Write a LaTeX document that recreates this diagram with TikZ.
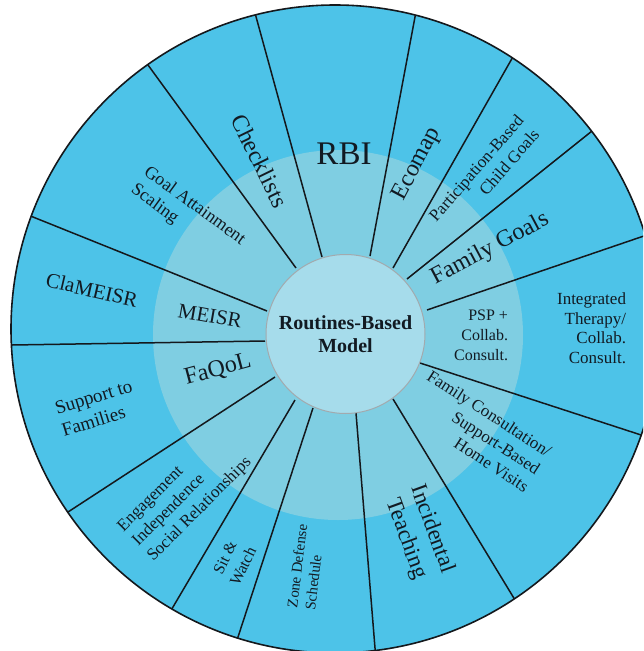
\documentclass[tikz,border=0pt]{standalone}
\usepackage{fontspec}
\setmainfont{Liberation Serif}
\definecolor{outerblue}{RGB}{77,195,232}
\definecolor{ringblue}{RGB}{127,206,226}
\definecolor{coreblue}{RGB}{166,220,235}
\definecolor{inkc}{RGB}{18,26,34}
\definecolor{spokec}{RGB}{20,24,28}
\tikzset{
  lbl/.style={text=inkc, inner sep=0pt, outer sep=0pt},
  spokeline/.style={draw=spokec, line width=1.5pt, shorten >=-12pt},
}
\newcommand{\fs}[2]{\fontsize{#1}{#2}\selectfont}
\begin{document}
\begin{tikzpicture}[x=1pt,y=-1pt]
\useasboundingbox (0,0) rectangle (643,651);
\clip (0,0) rectangle (643,651);
% circles
\coordinate (oc) at (335,329);
\coordinate (rc) at (338,335);
\fill[outerblue] (oc) circle[radius=324pt];
\fill[ringblue] (rc) circle[radius=185pt];
% spokes
\foreach \ox/\oy/\ix/\iy [count=\k] in {
 255/13/322/257, 415/17/370/256, 510/62/393/268, 587/135/407/279,
 638/238/427/310, 635/433/420/363, 512/595/393/399, 375/648/356/413,
 238/637/313/408, 173/607/295/400, 68/512/275/377, 12/345/265/341,
 33/217/267/311, 148/65/296/268}{
  \coordinate (so\k) at (\ox,\oy);
  \coordinate (si\k) at (\ix,\iy);
  \begin{scope}
    \clip (oc) circle[radius=324pt];
    \draw[spokeline] (si\k) -- (so\k);
  \end{scope}
}
\draw[spokec, line width=1.6pt] (oc) circle[radius=324pt];
% core
\node[circle, fill=coreblue, draw=gray!60!cyan!40!black!50, line width=1pt,
      minimum size=159pt, inner sep=0pt, text=inkc, align=center,
      font=\fs{20}{23}\bfseries] (core) at (345.5,334) {Routines-Based\\Model};
% labels
\node[lbl, font=\fs{33}{38}] (rbi) at (344,154) {RBI};
\node[lbl, font=\fs{24}{28}, rotate=-64] (chk) at (260,161) {Checklists};
\node[lbl, font=\fs{24}{28}, rotate=62] (eco) at (417,164) {Ecomap};
\node[lbl, font=\fs{17}{21}, rotate=49, align=right] (pbg) at (484,175) {Participation-Based\\Child Goals};
\node[lbl, font=\fs{24}{28}, rotate=28] (fg) at (490,249) {Family Goals};
\node[lbl, font=\fs{16}{20}, align=right, anchor=east] (psp) at (508,335) {PSP +\\Collab.\\Consult.};
\node[lbl, font=\fs{17}{19.5}, align=right, anchor=east] (itc) at (626,328) {Integrated\\Therapy/\\Collab.\\Consult.};
\node[lbl, font=\fs{17}{21}, rotate=-33, align=right] (fcs) at (478,431) {Family Consultation/\\Support-Based\\Home Visits};
\node[lbl, font=\fs{23}{28}, rotate=-70, align=center] (inc) at (419,534) {Incidental\\Teaching};
\node[lbl, font=\fs{15}{18}, rotate=83, align=left] (zds) at (306,567) {Zone Defense\\Schedule};
\node[lbl, font=\fs{16}{20}, rotate=64, align=center] (sw) at (234,562) {Sit \&\\Watch};
\node[lbl, font=\fs{17}{21}, rotate=45, align=left] (eis) at (185,495) {Engagement\\Independence\\Social Relationships};
\node[lbl, font=\fs{19}{23}, rotate=17, align=left] (stf) at (97,408) {Support to\\Families};
\node[lbl, font=\fs{24}{28}, rotate=15] (faq) at (218,370) {FaQoL};
\node[lbl, font=\fs{21}{25}, rotate=-10] (mei) at (210,316) {MEISR};
\node[lbl, font=\fs{21}{25}, rotate=-13] (cla) at (92,290) {ClaMEISR};
\node[lbl, font=\fs{18}{22}, rotate=-36, align=left] (gas) at (188,215) {Goal Attainment\\Scaling};
\end{tikzpicture}
\end{document}
